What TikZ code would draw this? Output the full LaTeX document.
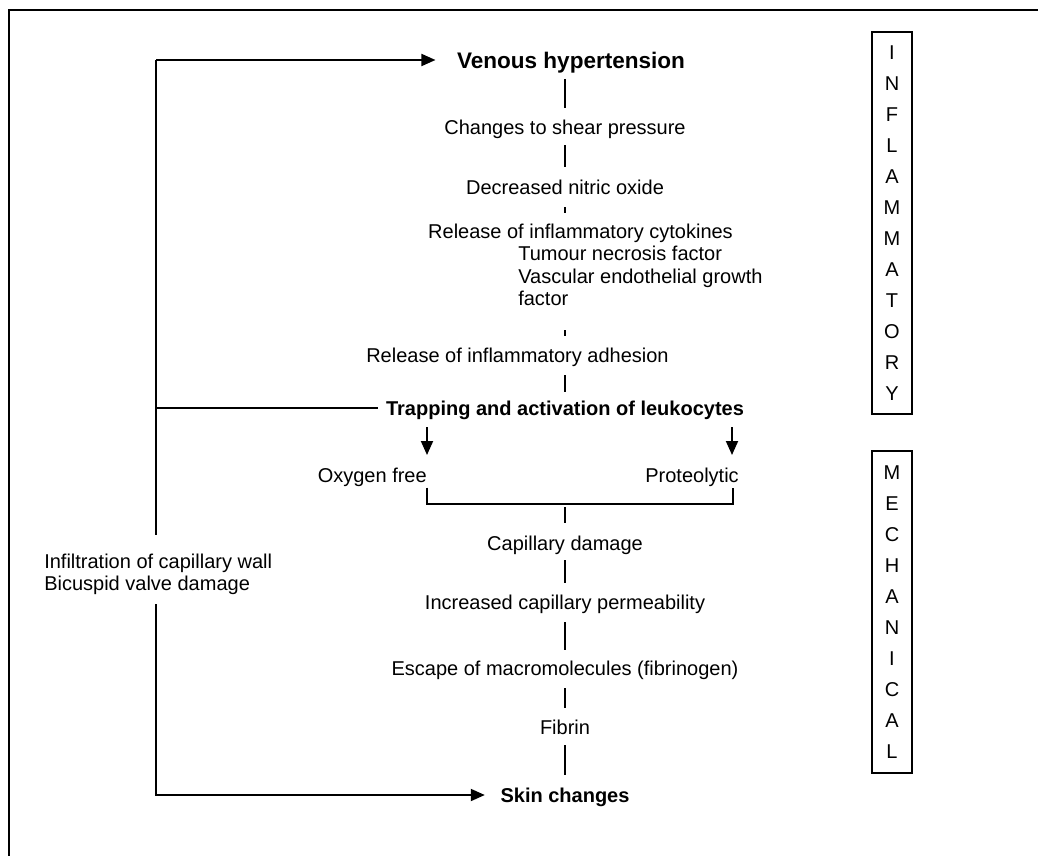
\documentclass[tikz,border=0pt]{standalone}
\usepackage{fontspec}
\setmainfont{Liberation Sans}
\usetikzlibrary{arrows.meta}
\begin{document}
\begin{tikzpicture}[x=0.75pt,y=-0.75pt,
  ln/.style={line width=1.4pt},
  arr/.style={line width=1.4pt,-{Triangle[length=10.5pt,width=9pt]}},
  txt/.style={inner sep=0pt,text height=10.7pt,text depth=0pt,font=\fontsize{15}{17}\selectfont},
  btxt/.style={txt,font=\fontsize{15}{17}\selectfont\bfseries},
  vbox/.style={draw,line width=1.4pt,inner sep=0pt,minimum width=30pt,align=center,font=\fontsize{15}{23.25}\selectfont}]
\useasboundingbox (0,0) rectangle (1038,856);
% frame
\draw[line width=1.5pt] (9,856) -- (9,10) -- (1038,10);
% main column
\node[btxt,text height=12.1pt,font=\fontsize{16.9}{19}\selectfont\bfseries] (vh) at (571,60) {Venous hypertension};
\node[txt] (c1) at (565,127) {Changes to shear pressure};
\node[txt] (c2) at (565,187) {Decreased nitric oxide};
\node[txt] (c3) at (580.5,231) {Release of inflammatory cytokines};
\node[txt,anchor=west] (tnf) at (518,253) {Tumour necrosis factor};
\node[txt,anchor=west] (veg) at (518,276) {Vascular endothelial growth};
\node[txt,anchor=west] (fac) at (518,298) {factor};
\node[txt,anchor=west] (c4) at (366,355) {Release of inflammatory adhesion};
\node[btxt] (tr) at (565,408) {Trapping and activation of leukocytes};
\node[txt,anchor=east] (ox) at (427,475) {Oxygen free};
\node[txt,anchor=east] (pr) at (739,475) {Proteolytic};
\node[txt] (cd) at (565,543) {Capillary damage};
\node[txt] (icp) at (565,602) {Increased capillary permeability};
\node[txt] (esc) at (565,668) {Escape of macromolecules (fibrinogen)};
\node[txt] (fib) at (565,727) {Fibrin};
\node[btxt] (sk) at (565,795) {Skin changes};
\node[txt,anchor=west] (inf) at (44,561) {Infiltration of capillary wall};
\node[txt,anchor=west] (bic) at (44,583) {Bicuspid valve damage};
% side boxes
\node[vbox,minimum height=286.5pt] (infl) at (892,223) {I\\N\\F\\L\\A\\M\\M\\A\\T\\O\\R\\Y};
\node[vbox,minimum height=241.5pt] (mech) at (892,612) {M\\E\\C\\H\\A\\N\\I\\C\\A\\L};
% stubs
\draw[ln,shorten <=14.25pt,shorten >=14.25pt] (vh.center -| c1.center) -- (c1.center);
\draw[ln,shorten <=13.5pt,shorten >=15pt] (c1.center) -- (c2.center);
\draw[ln,shorten <=15pt,shorten >=13.5pt] (c2.center) -- (c2.center |- c3.center);
\draw[ln,shorten <=24pt,shorten >=14.25pt] (c2.center |- fac.center) -- (c2.center |- c4.center);
\draw[ln,shorten <=15pt,shorten >=12pt] (c2.center |- c4.center) -- (tr.center);
% arrows to the two products
\coordinate (pra) at ([xshift=-5.25pt]pr.east);
\draw[arr,shorten <=14.25pt,shorten >=15pt] (ox.east |- tr.center) -- (ox.east);
\draw[arr,shorten <=14.25pt,shorten >=15pt] (pra |- tr.center) -- (pra);
% bracket
\coordinate (bl) at (427,504);
\coordinate (br) at (733,504);
\draw[ln] ([yshift=-4pt]bl |- ox.south) -- (bl) -- (br) -- ([yshift=-4pt]br |- pr.south);
\draw[ln,shorten <=2.25pt,shorten >=15pt] (cd.center |- bl) -- (cd.center);
\draw[ln,shorten <=12.75pt,shorten >=14.25pt] (cd.center) -- (icp.center);
\draw[ln,shorten <=15pt,shorten >=13.5pt] (icp.center) -- (esc.center);
\draw[ln,shorten <=15pt,shorten >=14.25pt] (esc.center) -- (fib.center);
\draw[ln,shorten <=13.5pt,shorten >=15pt] (fib.center) -- (sk.center);
% left feedback loop
\coordinate (ltop) at (156,60);
\draw[arr,shorten >=16pt] (ltop) -- (vh.west);
\draw[ln,shorten >=19.5pt] (ltop) -- (ltop |- inf.center);
\draw[ln,shorten >=5.6pt] (ltop |- tr.center) -- (tr.west);
\draw[arr,shorten <=15.75pt,shorten >=11.6pt] (ltop |- bic.center) -- (ltop |- sk.center) -- (sk.west);
\end{tikzpicture}
\end{document}
